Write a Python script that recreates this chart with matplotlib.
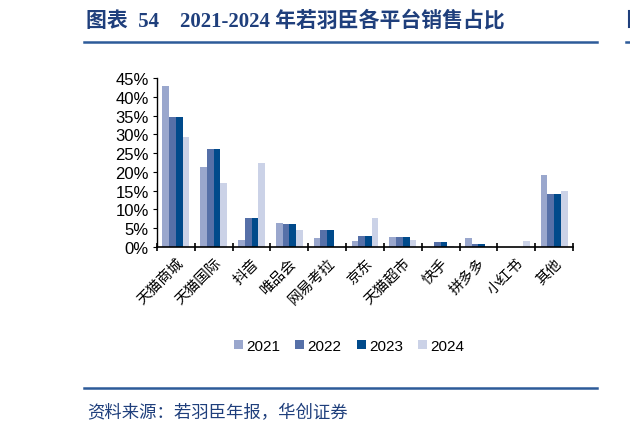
import numpy as np
import matplotlib.pyplot as plt
from matplotlib.lines import Line2D

plt.rcParams['font.family'] = ['Liberation Sans', 'Noto Sans CJK SC', 'DejaVu Sans']

# --- data (share of sales, %) ---
platforms = ['天猫商城', '天猫国际', '抖音', '唯品会', '网易考拉', '京东',
             '天猫超市', '快手', '拼多多', '小红书', '其他']
years = ['2021', '2022', '2023', '2024']
s2021 = [42.8, 21.3, 1.9, 6.5, 2.3, 1.6, 2.7, 0.0, 2.4, 0.0, 19.1]
s2022 = [34.5, 26.1, 7.7, 6.0, 4.4, 2.8, 2.7, 1.2, 0.9, 0.0, 14.0]
s2023 = [34.5, 26.1, 7.7, 6.0, 4.4, 2.8, 2.7, 1.2, 0.9, 0.0, 14.0]
s2024 = [29.2, 17.1, 22.5, 4.6, 0.0, 7.8, 1.8, 0.3, 0.3, 1.6, 15.0]
colors = ['#9AA7CD', '#5670A8', '#004A8B', '#CBD2E7']

navy = '#1F3F7C'
rule = '#2D5B99'

fig = plt.figure(figsize=(6.3, 4.35), dpi=100)
W, H = 630, 435

# --- header / footer ---
fig.text(86 / W, 1 - 21 / H, '图表  54    2021-2024 年若羽臣各平台销售占比',
         fontsize=15, fontweight='bold', color=navy, va='center', ha='left',
         family=['Liberation Serif', 'Noto Sans CJK SC'])
fig.add_artist(Line2D([84 / W, 597 / W], [1 - 43 / H, 1 - 43 / H],
                      color=rule, lw=1.8, transform=fig.transFigure))
fig.add_artist(Line2D([626 / W, 1.0], [1 - 43 / H, 1 - 43 / H],
                      color=rule, lw=1.8, transform=fig.transFigure))
fig.add_artist(Line2D([629 / W, 629 / W], [1 - 12 / H, 1 - 28 / H],
                      color=navy, lw=1.5, transform=fig.transFigure))
fig.add_artist(Line2D([84 / W, 597 / W], [1 - 389 / H, 1 - 389 / H],
                      color=rule, lw=1.8, transform=fig.transFigure))
fig.text(87 / W, 1 - 413 / H, '资料来源：若羽臣年报，华创证券',
         fontsize=12.5, color=navy, va='center', ha='left', style='italic',
         family=['Noto Sans CJK SC'])

# --- chart ---
ax = fig.add_axes([157 / W, 1 - 248 / H, (573 - 157) / W, (248 - 79) / H])
x = np.arange(len(platforms))
w = 0.178
for i, (yr, vals) in enumerate(zip(years, [s2021, s2022, s2023, s2024])):
    ax.bar(x + (i - 1.5) * w, vals, width=w, color=colors[i], label=yr)

ax.set_xlim(-0.5, len(platforms) - 0.5)
ax.set_ylim(0, 45)
ax.set_yticks(np.arange(0, 46, 5))
ax.set_yticklabels([f'{v}%' for v in range(0, 46, 5)], fontsize=12)
ax.tick_params(axis='y', direction='out', length=3, width=0.8, pad=3)

ax.set_xticks(np.arange(-0.5, len(platforms), 1))
ax.set_xticklabels([])
ax.tick_params(axis='x', which='major', direction='inout', length=6, width=1.2)
ax.set_xticks(x, minor=True)
ax.set_xticklabels(platforms, minor=True, rotation=45, ha='right',
                   rotation_mode='anchor', fontsize=10.5,
                   family=['Noto Sans CJK SC'])
ax.tick_params(axis='x', which='minor', length=0, pad=6)

for s in ['top', 'right']:
    ax.spines[s].set_visible(False)
ax.spines['left'].set_linewidth(1.0)
ax.spines['bottom'].set_linewidth(1.2)

fig.legend(loc='center', bbox_to_anchor=(349 / W, 1 - 347 / H), ncol=4,
           frameon=False, fontsize=11, handlelength=0.6, handleheight=0.6,
           handletextpad=0.2, columnspacing=1.0)

fig.savefig('out.png', dpi=100)
